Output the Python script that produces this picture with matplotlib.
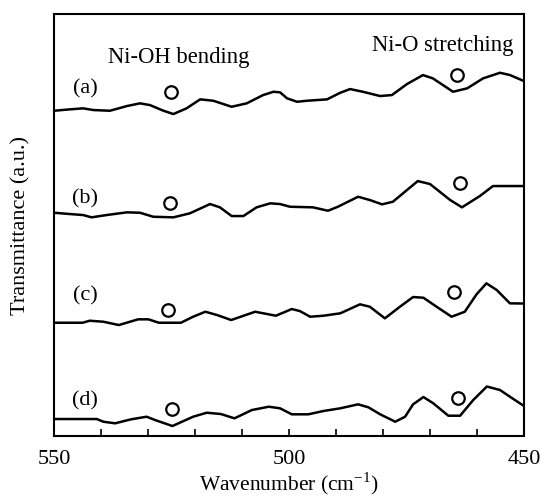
import numpy as np
import matplotlib
matplotlib.use('Agg')
import matplotlib.pyplot as plt

plt.rcParams['font.family'] = 'Liberation Serif'
plt.rcParams['mathtext.fontset'] = 'custom'
plt.rcParams['mathtext.rm'] = 'Liberation Serif'

# spectra (wavenumber, transmittance a.u., already stacked)
wn_a = [550.0, 546.6, 543.8, 541.6, 538.1, 534.5, 531.7, 529.6, 526.7, 524.6, 521.8, 518.9,
        516.1, 512.2, 509.0, 505.5, 503.3, 501.9, 500.4, 498.3, 496.2, 491.9, 489.1, 487.0,
        484.3, 480.6, 478.1, 474.9, 471.5, 469.4, 465.1, 462.1, 458.7, 455.1, 453.0, 450.0]
tr_a = [32.53, 32.67, 32.77, 32.6, 32.53, 33.0, 33.27, 33.1, 32.53, 32.2, 32.77, 33.67,
        33.53, 32.93, 33.27, 34.1, 34.43, 34.37, 33.77, 33.43, 33.53, 33.67, 34.33, 34.7,
        34.43, 34.0, 34.1, 35.2, 36.1, 35.77, 34.43, 34.77, 35.77, 36.33, 36.1, 35.5]

wn_b = [550.0, 546.6, 543.8, 542.0, 538.8, 534.5, 531.7, 528.9, 524.6, 521.1, 516.8, 514.7,
        512.2, 509.7, 506.9, 504.0, 501.9, 499.8, 494.9, 491.7, 489.6, 485.3, 482.8, 480.2,
        477.9, 472.6, 470.0, 465.7, 463.2, 459.4, 456.6, 453.0, 450.0]
tr_b = [22.33, 22.2, 22.1, 21.87, 22.1, 22.37, 22.33, 21.93, 21.87, 22.27, 23.2, 22.87,
        22.0, 22.0, 22.87, 23.27, 23.2, 22.93, 22.87, 22.53, 22.93, 23.93, 23.6, 23.17,
        23.43, 25.5, 25.2, 23.6, 22.87, 24.0, 25.0, 25.0, 25.0]

wn_c = [550.0, 543.9, 542.4, 539.5, 536.2, 532.1, 529.9, 527.7, 523.0, 520.4, 517.8, 515.3,
        512.3, 507.2, 502.8, 499.4, 497.7, 495.5, 492.7, 489.1, 484.9, 482.8, 479.6, 476.4,
        473.6, 471.4, 468.6, 465.4, 462.6, 460.1, 458.0, 455.8, 453.0, 450.0]
tr_c = [11.33, 11.33, 11.53, 11.43, 11.1, 11.67, 11.67, 11.33, 11.33, 11.93, 12.43, 12.1,
        11.6, 12.43, 12.03, 12.7, 12.5, 11.93, 12.03, 12.27, 13.17, 12.93, 11.77, 12.93,
        13.9, 13.83, 12.93, 11.93, 12.43, 14.17, 15.27, 14.6, 13.27, 13.25]

wn_d = [550.0, 540.9, 539.5, 537.0, 533.6, 530.3, 528.5, 524.8, 520.4, 517.5, 514.5, 511.6,
        507.9, 504.3, 501.9, 499.4, 495.9, 492.7, 489.1, 485.3, 483.1, 480.6, 477.4, 475.3,
        473.6, 471.4, 469.3, 466.1, 463.6, 460.8, 457.9, 455.1, 453.0, 450.0]
tr_d = [1.7, 1.7, 1.43, 1.27, 1.67, 1.93, 1.6, 1.0, 1.93, 2.33, 2.2, 1.77,
        2.6, 2.93, 2.77, 2.17, 2.17, 2.5, 2.77, 3.17, 2.87, 2.17, 1.43, 1.93,
        3.17, 3.9, 3.27, 2.03, 2.03, 3.6, 4.95, 4.6, 3.93, 3.0]

# circle markers (Ni-OH bending, Ni-O stretching)
mark_wn = [525.0, 464.3, 525.3, 463.6, 525.8, 465.0, 524.8, 464.1]
mark_tr = [34.37, 36.1, 23.27, 25.27, 12.6, 14.37, 2.67, 3.85]

labels = ['(a)', '(b)', '(c)', '(d)']
label_tr = [34.67, 23.67, 14.0, 3.53]

fig = plt.figure(figsize=(5.41, 4.97), dpi=100)
ax = fig.add_axes([0.0998, 0.1227, 0.8688, 0.849])

for wn, tr in [(wn_a, tr_a), (wn_b, tr_b), (wn_c, tr_c), (wn_d, tr_d)]:
    ax.plot(wn, tr, color='k', linewidth=1.8, solid_joinstyle='round')

ax.plot(mark_wn, mark_tr, linestyle='none', marker='o', markersize=9,
        markerfacecolor='white', markeredgecolor='k', markeredgewidth=1.6)

for lab, y in zip(labels, label_tr):
    ax.text(543.4, y, lab, fontsize=16, ha='center', va='center')

ax.text(523.4, 37.9, 'Ni-OH bending', fontsize=16.3, ha='center', va='center')
ax.text(467.4, 39.1, 'Ni-O stretching', fontsize=16.3, ha='center', va='center')

ax.set_xlim(550, 450)
ax.set_ylim(0, 42.2)
ax.set_yticks([])
ticks = np.arange(450, 551, 10)
ax.set_xticks(ticks)
ax.set_xticklabels([str(t) if t % 50 == 0 else '' for t in ticks], fontsize=16)
ax.tick_params(axis='x', direction='in', length=5, width=1.2, pad=10)
for s in ax.spines.values():
    s.set_linewidth(1.5)

ax.set_xlabel(r'Wavenumber (cm$^{\mathregular{-1}}$)', fontsize=15.5, labelpad=1)
ax.set_ylabel('Transmittance (a.u.)', fontsize=16)
ax.yaxis.set_label_coords(-0.05, 0.5)

fig.savefig('out.png', dpi=100)
